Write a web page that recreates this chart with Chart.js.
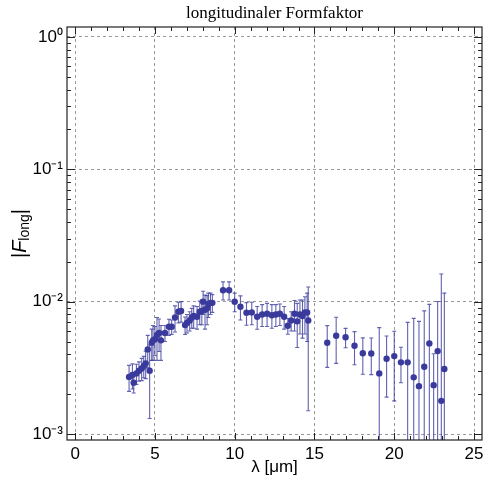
<!DOCTYPE html>
<html><head><meta charset="utf-8">
<script src="https://cdn.jsdelivr.net/npm/chart.js@4/dist/chart.umd.min.js"></script>
<style>html,body{margin:0;padding:0;background:#fff}</style>
</head><body>
<canvas id="c" width="486" height="479"></canvas>
<script>
// ---- data ----
const wavelength = [3.38,3.59,3.67,3.84,4.00,4.17,4.30,4.42,4.55,4.67,4.80,4.88,5.00,5.13,5.26,5.38,5.63,5.88,6.05,6.26,6.47,6.64,6.89,7.01,7.18,7.31,7.43,7.64,7.81,7.94,8.02,8.14,8.27,8.35,8.48,8.60,
  9.27,9.65,10.00,10.36,10.74,11.07,11.41,11.72,12.03,12.33,12.58,12.83,13.10,13.33,13.54,13.75,13.92,14.09,14.25,14.40,14.54,14.61,
  15.80,16.36,16.95,17.51,18.03,18.56,19.06,19.52,20.00,20.42,20.84,21.22,21.55,21.88,22.20,22.47,22.72,22.95,23.14];
const formFactor = [0.00270,0.00279,0.00244,0.00287,0.00301,0.00313,0.00326,0.00342,0.00436,0.00301,0.00490,0.00510,0.00520,0.00560,0.00580,0.00510,0.00580,0.00646,0.00646,0.00760,0.00840,0.00850,0.00665,0.00690,0.00720,0.00760,0.00780,0.00770,0.00840,0.00850,0.01000,0.00870,0.00890,0.00960,0.00980,0.00980,
  0.0122,0.0122,0.0100,0.00916,0.00824,0.0083,0.00769,0.0080,0.0081,0.0079,0.0080,0.0081,0.0077,0.00657,0.0072,0.0081,0.0071,0.0080,0.0078,0.0083,0.0083,0.0072,
  0.00489,0.00552,0.00538,0.00464,0.00408,0.00406,0.00287,0.0037,0.00388,0.00348,0.00348,0.00268,0.0023,0.00322,0.00484,0.00234,0.00423,0.00178,0.0031];
const formFactorErr = [0.0006,0.0006,0.0004,0.0005,0.0005,0.0006,0.0006,0.0008,0.0012,0.0017,0.0013,0.0015,0.0013,0.0020,0.0016,0.0015,0.0008,0.0009,0.0008,0.0017,0.0015,0.0015,0.0010,0.0011,0.0012,0.0013,0.0015,0.0015,0.0017,0.0018,0.0020,0.0025,0.0022,0.0020,0.0018,0.0015,
  0.0019,0.0019,0.0016,0.0019,0.0016,0.0016,0.0015,0.0015,0.0016,0.0016,0.0015,0.0015,0.0015,0.0009,0.0012,0.0021,0.0026,0.0023,0.0025,0.0026,0.0033,0.0057,
  0.0017,0.0021,0.0009,0.0013,0.00125,0.00125,0.0035,0.0018,0.0021,0.00104,0.0035,0.0048,0.0048,0.0053,0.0047,0.0017,0.0058,0.0144,0.0085];
const xTickValues = [0,5,10,15,20,25];
const xTickLabels = ['0','5','10','15','20','25'];
const yTickValues = [0.001,0.01,0.1,1];
const yTickLabels = ['10\u207B\u00B3','10\u207B\u00B2','10\u207B\u00B9','10\u2070'];
const chartTitle = 'longitudinaler Formfaktor';
const xTitle = '\u03BB [\u03BCm]';

const points = wavelength.map((w,i)=>({x:w,y:formFactor[i]}));
const markColor = '#3a3a9c';
const sans = '"Liberation Sans", Arial, sans-serif';

const errorBars = {
  id:'errorBars',
  beforeDatasetsDraw(chart){
    const {ctx, chartArea:a, scales:{x,y}} = chart;
    ctx.save();
    ctx.beginPath(); ctx.rect(a.left,a.top,a.right-a.left,a.bottom-a.top); ctx.clip();
    ctx.strokeStyle = 'rgba(58,58,156,0.8)'; ctx.lineWidth = 1.1;
    wavelength.forEach((w,i)=>{
      const px = x.getPixelForValue(w);
      const hi = formFactor[i]+formFactorErr[i];
      const lo = formFactor[i]-formFactorErr[i];
      const pyHi = y.getPixelForValue(hi);
      const pyLo = lo>0 ? y.getPixelForValue(lo) : a.bottom+5;
      ctx.beginPath(); ctx.moveTo(px,pyHi); ctx.lineTo(px,pyLo);
      ctx.moveTo(px-2,pyHi); ctx.lineTo(px+2,pyHi);
      if (lo>0){ ctx.moveTo(px-2,pyLo); ctx.lineTo(px+2,pyLo); }
      ctx.stroke();
    });
    ctx.restore();
  }
};

const frame = {
  id:'frame',
  afterDatasetsDraw(chart){
    const {ctx, chartArea:a, scales:{x,y}} = chart;
    ctx.save();
    ctx.strokeStyle = '#222'; ctx.lineWidth = 1.2;
    ctx.strokeRect(a.left,a.top,a.right-a.left,a.bottom-a.top);
    ctx.lineWidth = 1;
    ctx.beginPath();
    for (let v=0; v<=25; v++){
      const px = Math.round(x.getPixelForValue(v))+0.5;
      const L = v%5===0 ? 7 : 4;
      ctx.moveTo(px,a.bottom); ctx.lineTo(px,a.bottom-L);
      ctx.moveTo(px,a.top); ctx.lineTo(px,a.top+L);
    }
    for (let k=-4; k<=0; k++){
      for (let d=1; d<=9; d++){
        const v = d*Math.pow(10,k);
        if (v < y.min || v > y.max) continue;
        const py = Math.round(y.getPixelForValue(v))+0.5;
        const L = d===1 ? 8 : 4;
        ctx.moveTo(a.left,py); ctx.lineTo(a.left+L,py);
        ctx.moveTo(a.right,py); ctx.lineTo(a.right-L,py);
      }
    }
    ctx.stroke();
    ctx.restore();
  },
  afterDraw(chart){
    const {ctx, chartArea:a} = chart;
    ctx.save();
    ctx.translate(26,(a.top+a.bottom)/2);
    ctx.rotate(-Math.PI/2);
    ctx.fillStyle = '#000';
    ctx.textBaseline = 'alphabetic';
    const parts = [
      {t:'|', f:'20px '+sans, dy:0},
      {t:'F', f:'italic 20px '+sans, dy:0},
      {t:'long', f:'14px '+sans, dy:3},
      {t:'|', f:'20px '+sans, dy:0}
    ];
    let total = 0;
    parts.forEach(p=>{ctx.font=p.f; p.w=ctx.measureText(p.t).width; total+=p.w;});
    let u = -total/2;
    parts.forEach(p=>{ctx.font=p.f; ctx.fillText(p.t,u,p.dy); u+=p.w;});
    ctx.restore();
  }
};

new Chart(document.getElementById('c'), {
  type:'scatter',
  data:{datasets:[{data:points, backgroundColor:markColor, borderColor:markColor, pointRadius:3.2, pointBorderWidth:0, pointHoverRadius:3.2}]},
  options:{
    responsive:false, animation:false, devicePixelRatio:1,
    layout:{padding:{left:0,right:4,top:0,bottom:0}},
    plugins:{
      legend:{display:false}, tooltip:{enabled:false},
      title:{display:true, text:chartTitle, fullSize:false, color:'#000',
        font:{family:'"Liberation Serif", "Times New Roman", serif', size:17, weight:'normal', lineHeight:1.2},
        padding:{top:3,bottom:3.6}}
    },
    scales:{
      x:{type:'linear', min:-0.51, max:25.5,
        afterBuildTicks(s){ s.ticks = xTickValues.map(v=>({value:v})); },
        afterFit(s){ s.height = 39; s.paddingLeft = 0; s.paddingRight = 0; },
        ticks:{color:'#000', font:{family:sans, size:17}, padding:4,
          callback:(v)=>{const i=xTickValues.indexOf(v); return i>=0?xTickLabels[i]:'';}},
        grid:{color:'#9a9a9a', lineWidth:1, drawTicks:false},
        border:{display:false, dash:[3,3]},
        title:{display:true, text:xTitle, color:'#000', font:{family:sans, size:17}, padding:{top:0,bottom:1}}
      },
      y:{type:'logarithmic', min:0.000901, max:1.19,
        afterBuildTicks(s){ s.ticks = yTickValues.map(v=>({value:v})); },
        afterFit(s){ s.width = 67; s.paddingTop = 0; s.paddingBottom = 0; },
        ticks:{color:'#000', font:{family:sans, size:17}, padding:4,
          callback:(v)=>{const i=yTickValues.findIndex(t=>Math.abs(t-v)/t<1e-6); return i>=0?yTickLabels[i]:'';}},
        grid:{color:'#9a9a9a', lineWidth:1, drawTicks:false},
        border:{display:false, dash:[3,3]}
      }
    }
  },
  plugins:[errorBars, frame]
});
</script>
</body></html>
